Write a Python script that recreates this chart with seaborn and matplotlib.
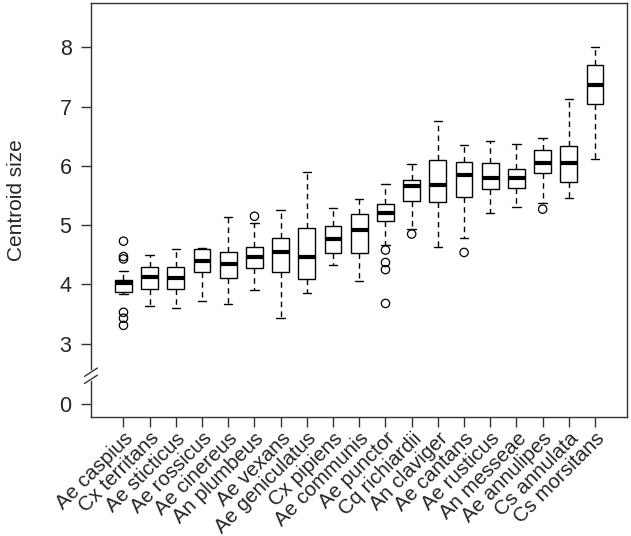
import numpy as np
import pandas as pd
import seaborn as sns
import matplotlib.pyplot as plt

sns.set_style("ticks")
plt.rcParams['font.family'] = ['Liberation Sans', 'DejaVu Sans']

# species ordered by median centroid size
species = ['Ae caspius', 'Cx territans', 'Ae sticticus', 'Ae rossicus', 'Ae cinereus',
           'An plumbeus', 'Ae vexans', 'Ae geniculatus', 'Cx pipiens', 'Ae communis',
           'Ae punctor', 'Cq richiardii', 'An claviger', 'Ae cantans', 'Ae rusticus',
           'An messeae', 'Ae annulipes', 'Cs annulata', 'Cs morsitans']

# five-number summaries
whisker_lo = [3.84, 3.64, 3.61, 3.72, 3.67, 3.90, 3.43, 3.86, 4.33, 4.06,
              4.67, 4.93, 4.63, 4.78, 5.20, 5.31, 5.37, 5.45, 6.11]
q1 = [3.87, 3.92, 3.92, 4.21, 4.11, 4.28, 4.21, 4.10, 4.53, 4.53,
      5.07, 5.41, 5.39, 5.48, 5.61, 5.62, 5.88, 5.73, 7.04]
median = [4.03, 4.13, 4.11, 4.40, 4.35, 4.46, 4.54, 4.46, 4.77, 4.92,
          5.21, 5.66, 5.68, 5.85, 5.79, 5.79, 6.04, 6.05, 7.36]
q3 = [4.08, 4.29, 4.29, 4.59, 4.54, 4.63, 4.78, 4.95, 4.99, 5.19,
      5.35, 5.76, 6.10, 6.07, 6.05, 5.94, 6.26, 6.34, 7.70]
whisker_hi = [4.23, 4.49, 4.60, 4.62, 5.14, 5.03, 5.25, 5.89, 5.29, 5.44,
              5.69, 6.03, 6.75, 6.35, 6.42, 6.37, 6.47, 7.12, 8.00]

# outliers
outlier_species = ['Ae caspius'] * 6 + ['An plumbeus'] + ['Ae punctor'] * 4 + \
                  ['Cq richiardii', 'Ae cantans', 'Ae annulipes']
outlier_values = [4.73, 4.47, 4.43, 3.53, 3.43, 3.31, 5.15, 4.58, 4.37, 4.25, 3.68,
                  4.85, 4.54, 5.27]

# axis break: value 0 is drawn one unit below 3
zero_pos = 1.983

rows = []
for i, sp in enumerate(species):
    for v in (whisker_lo[i], q1[i], median[i], q3[i], whisker_hi[i]):
        rows.append({'species': sp, 'size': v})
df = pd.DataFrame(rows)

fig = plt.figure(figsize=(6.31, 5.36), dpi=100)
ax = fig.add_axes([0.1442, 0.222, 0.8495, 0.7724])

edge = '#333333'
sns.boxplot(data=df, x='species', y='size', order=species, whis=(0, 100),
            width=0.64, color='white', linecolor='black', linewidth=1,
            showfliers=False, ax=ax,
            medianprops={'linewidth': 3, 'color': 'black'},
            whiskerprops={'linestyle': (0, (4, 3))})
sns.stripplot(x=outlier_species, y=outlier_values, order=species, jitter=False,
              marker='o', size=6, facecolors='none', edgecolor='black',
              linewidth=0.9, color='black', ax=ax)

ax.set_xlim(-1.24, 19.22)
ax.set_ylim(1.764, 8.747)
ax.set_yticks([zero_pos, 3, 4, 5, 6, 7, 8], labels=['0', '3', '4', '5', '6', '7', '8'])
ax.set_xlabel('')
ax.set_ylabel('Centroid size', fontsize=15)
ax.yaxis.set_label_coords(-0.122, 0.525)

for s in ax.spines.values():
    s.set_visible(True)
    s.set_color(edge)
    s.set_linewidth(1)
ax.tick_params(axis='both', direction='out', length=7, width=1, color=edge)
ax.tick_params(axis='y', labelsize=15.5, pad=7)
ax.tick_params(axis='x', labelsize=14.8, pad=1.5)
plt.setp(ax.get_xticklabels(), rotation=45, ha='right', rotation_mode='anchor')

# broken-axis marks on the left spine
yt = ax.get_yaxis_transform()
ax.plot([0, 0], [2.40, 2.52], color='white', lw=3, transform=yt, clip_on=False, zorder=5)
for yc in (2.40, 2.52):
    ax.plot([-0.012, 0.012], [yc - 0.07, yc + 0.07], color=edge, lw=1,
            transform=yt, clip_on=False, zorder=6)

plt.savefig('out.png', dpi=100)
